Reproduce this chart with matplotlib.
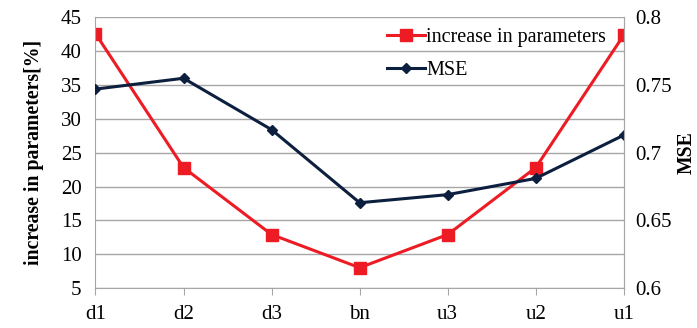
import matplotlib.pyplot as plt

categories = ["d1", "d2", "d3", "bn", "u3", "u2", "u1"]
increase = [42.6, 22.8, 12.9, 8.0, 12.9, 22.8, 42.4]
mse = [0.747, 0.755, 0.717, 0.663, 0.669, 0.681, 0.713]

plt.rcParams['font.family'] = ['Liberation Serif', 'DejaVu Serif']

red = '#ed1c24'
navy = '#0c1f3f'
grey = '#a6a6a6'

fig, ax = plt.subplots(figsize=(6.97, 3.28), dpi=100)
fig.subplots_adjust(left=0.137, right=0.895, top=0.947, bottom=0.122)
ax2 = ax.twinx()

x = list(range(len(categories)))
l1, = ax.plot(x, increase, color=red, lw=2.2, marker='s', ms=8,
              label='increase in parameters')
l2, = ax2.plot(x, mse, color=navy, lw=2.2, marker='D', ms=5,
               label='MSE')

ax.set_xlim(0, 6)
ax.set_ylim(5, 45)
ax.set_yticks(range(5, 50, 5))
ax2.set_ylim(0.6, 0.8)
ax2.set_yticks([0.6, 0.65, 0.7, 0.75, 0.8])
ax2.set_yticklabels(['0.6', '0.65', '0.7', '0.75', '0.8'])
ax.set_xticks(x)
ax.set_xticklabels(categories)

ax.yaxis.grid(True, color=grey, lw=1)
ax.set_axisbelow(True)
ax.tick_params(axis='y', length=0, labelsize=15, pad=10)
ax2.tick_params(axis='y', length=0, labelsize=15, pad=8)
ax.tick_params(axis='x', length=5, color=grey, labelsize=15, pad=7)

for a in (ax, ax2):
    for s in a.spines.values():
        s.set_color(grey)
    a.spines['top'].set_visible(False)
ax2.spines['left'].set_visible(False)
ax2.spines['bottom'].set_visible(False)

ax.set_ylabel('increase in parameters[%]', fontsize=14.2, fontweight='bold', labelpad=12)
ax2.set_ylabel('MSE', fontsize=14.2, fontweight='bold', labelpad=4)

ax2.legend([l1, l2], ['increase in parameters', 'MSE'], loc='upper right',
           bbox_to_anchor=(0.985, 1.0), frameon=False, fontsize=14.5,
           handlelength=1.9, handletextpad=0.05, labelspacing=0.7,
           borderaxespad=0.1)

fig.savefig('out.png', dpi=100)
